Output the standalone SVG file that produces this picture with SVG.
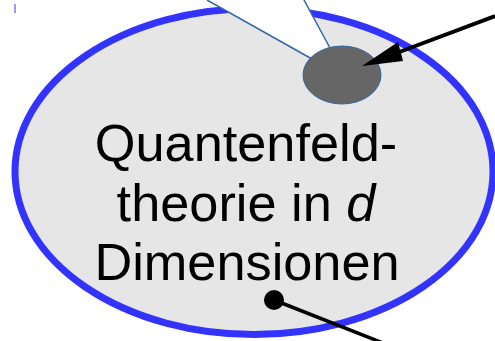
<svg xmlns="http://www.w3.org/2000/svg" width="495" height="341" viewBox="0 0 495 341">
<style>
.lbl{font-family:"Liberation Sans",Arial,sans-serif;font-size:52.3px;fill:#000;text-anchor:middle}
.cone{stroke:#3465a4;stroke-width:1.5;fill:none}
</style>
<rect width="495" height="341" fill="#fff"/>
<g id="field">
<ellipse cx="254" cy="171.5" rx="239" ry="163" fill="#e6e6e6" stroke="#3333ff" stroke-width="7"/>
<text class="lbl"><tspan x="246" y="161">Quantenfeld-</tspan><tspan x="246" y="221">theorie in <tspan font-style="italic">d</tspan></tspan><tspan x="247" y="280">Dimensionen</tspan></text>
</g>
<g id="cone">
<polygon points="207,0 304,0 330,48 310,58" fill="#fff"/>
<line class="cone" x1="207" y1="0" x2="312" y2="59"/>
<line class="cone" x1="304" y1="0" x2="330" y2="48"/>
</g>
<g id="spot">
<ellipse cx="342" cy="75" rx="39" ry="29" fill="#666" stroke="#3465a4" stroke-width="1"/>
</g>
<rect x="14.5" y="4" width="1" height="9" fill="#3333ff"/>
<g id="connectors">
<line x1="495" y1="16" x2="398" y2="52.5" stroke="#000" stroke-width="4"/>
<polygon points="362,66 398,42 403,61" fill="#000"/>
<circle cx="274" cy="300" r="10" fill="#000"/>
<line x1="274" y1="300" x2="388" y2="345" stroke="#000" stroke-width="3.5"/>
</g>
</svg>
